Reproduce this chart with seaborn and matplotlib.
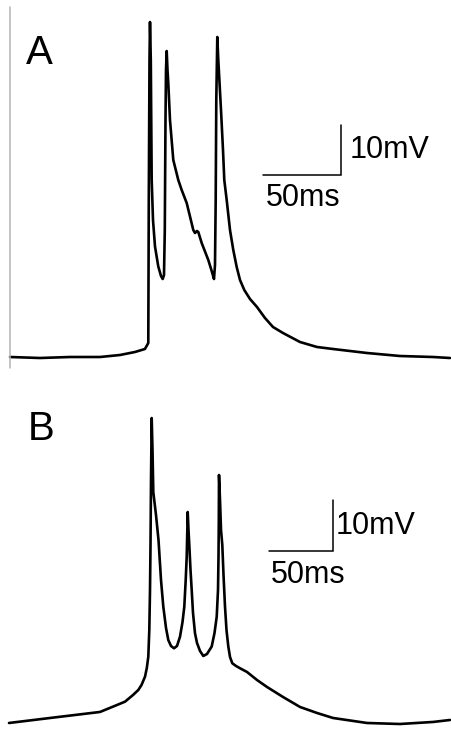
import numpy as np
import pandas as pd
import seaborn as sns
import matplotlib
matplotlib.use('Agg')
import matplotlib.pyplot as plt

# Trace A: time (ms) and membrane potential (mV)
time_a = [0, 19.2, 38.5, 57.7, 70.5, 80.1, 86.5, 88.65, 88.97, 89.42, 89.74,
          90.26, 90.83, 91.67, 92.95, 95.06, 96.79, 97.88, 98.72, 99.23, 99.68,
          100.0, 100.45, 100.96, 101.47, 102.56, 104.68, 107.88, 110.06, 113.27,
          117.5, 118.59, 119.87, 120.71, 122.88, 127.12, 129.49, 130.77, 131.41,
          131.86, 132.24, 132.88, 133.53, 135.26, 136.54, 137.37, 138.91, 141.03,
          143.14, 145.32, 147.44, 150.19, 153.85, 158.33, 163.46, 168.59, 175.0,
          185.9, 196.79, 207.05, 217.95, 228.85, 250.0, 271.15, 282.05]
volt_a = [-65.0, -65.2, -65.0, -65.0, -64.6, -64.0, -63.4, -62.2, -33.6, -5.6, 2.0,
          -5.6, -29.6, -37.6, -42.9, -46.9, -48.8, -49.4, -48.6, -39.6, -17.6,
          -7.6, -3.8, -7.6, -10.2, -17.6, -25.6, -29.6, -31.6, -34.2,
          -39.6, -40.2, -39.8, -40.0, -42.2, -45.6, -48.0, -49.4, -46.6,
          -33.6, -13.6, -1.0, -5.6, -15.6, -23.6, -29.6, -33.6, -39.6,
          -43.6, -47.0, -49.6, -51.6, -53.4, -55.0, -57.2, -59.0, -60.2,
          -62.0, -63.0, -63.4, -63.8, -64.2, -64.8, -65.0, -65.2]

# Trace B
time_b = [0, 32.03, 71.09, 84.38, 90.63, 96.88, 101.02, 103.52, 106.25, 107.66,
          108.83, 109.61, 110.16,
          110.55, 110.94, 111.48, 112.11, 112.73, 114.84, 116.8, 118.75, 120.55,
          122.66, 124.45, 126.56, 128.91, 131.25, 133.59, 135.55, 136.95, 138.05,
          138.83, 139.3, 139.61, 140.23, 140.86, 141.8, 142.73, 143.75, 145.31,
          146.88, 149.22, 151.8, 154.69, 158.36, 160.55, 162.27, 163.28, 163.67,
          163.91, 164.06, 164.84, 165.63, 166.64, 167.58, 168.75, 169.92, 171.33,
          172.66, 174.45, 177.34, 180.47, 185.94, 193.75, 201.56, 214.06,
          227.34, 240.63, 253.13, 279.69, 305.47, 331.25, 344.53]
volt_b = [-65.0, -64.02, -62.84, -61.47, -60.82, -59.51, -58.53, -57.55, -55.92, -54.22,
          -52.0, -46.76, -38.92,
          -30.1, -17.35, -5.2, -11.47, -19.71, -24.22, -29.12, -36.96, -42.2,
          -46.37, -48.73, -49.9, -50.35, -49.9, -48.08, -45.2, -42.2, -36.96,
          -32.39, -27.16, -23.63, -27.16, -30.1, -35.0, -38.92, -43.43, -47.41,
          -49.31, -50.88, -51.86, -51.47, -50.0, -47.35, -44.16, -38.92, -32.39,
          -25.2, -16.37, -21.27, -27.16, -30.1, -35.98, -42.2, -46.8, -50.0,
          -52.06, -53.29, -53.82, -54.27, -55.0, -56.57, -57.94, -59.9,
          -61.86, -63.04, -64.02, -65.0, -65.2, -64.8, -64.41]

sns.set_theme(style='white')
plt.rcParams['font.family'] = ['Liberation Sans', 'DejaVu Sans']
plt.rcParams['text.color'] = 'black'

fig = plt.figure(figsize=(4.51, 7.52), dpi=100)
ax_a = fig.add_axes([0, 0.5, 1, 0.5])
ax_b = fig.add_axes([0, 0.0, 1, 0.5])

df_a = pd.DataFrame({'t': time_a, 'v': volt_a})
df_b = pd.DataFrame({'t': time_b, 'v': volt_b})

sns.lineplot(data=df_a, x='t', y='v', ax=ax_a, color='black', lw=1.9,
             estimator=None, sort=False)
sns.lineplot(data=df_b, x='t', y='v', ax=ax_b, color='black', lw=1.9,
             estimator=None, sort=False)

ax_a.set_xlim(-6.41, 282.7)
ax_a.set_ylim(-68.8, 6.4)
ax_b.set_xlim(-7.03, 345.3)
ax_b.set_ylim(-70.69, 3.04)

# thin grey line at the left of panel A
ax_a.axvline(-0.3, ymin=0.021, ymax=0.981, color='#b4b4b4', lw=1.1)


def scale_bar(ax, t0, v0, dx_mv, dx_ms):
    # 50 ms horizontal, 10 mV vertical, corner at (t0, v0)
    ax.plot([t0 - 50, t0, t0], [v0, v0, v0 + 10], color='black', lw=1.1,
            solid_joinstyle='miter')
    ax.text(t0 + dx_mv, v0 + 5, '10mV', fontsize=22, va='center', ha='left',
            color='black')
    ax.text(t0 - 50 + dx_ms, v0 - 4.7, '50ms', fontsize=22, va='center',
            ha='left', color='black')


scale_bar(ax_a, 212.2, -28.6, 5.3, 1.6)
scale_bar(ax_b, 253.4, -31.3, 2.0, 1.2)

ax_a.text(0.058, 0.86, 'A', transform=ax_a.transAxes, fontsize=29,
          va='center', color='black')
ax_b.text(0.062, 0.86, 'B', transform=ax_b.transAxes, fontsize=29,
          va='center', color='black')

for ax in (ax_a, ax_b):
    ax.set_axis_off()

fig.savefig('out.png', dpi=100)
